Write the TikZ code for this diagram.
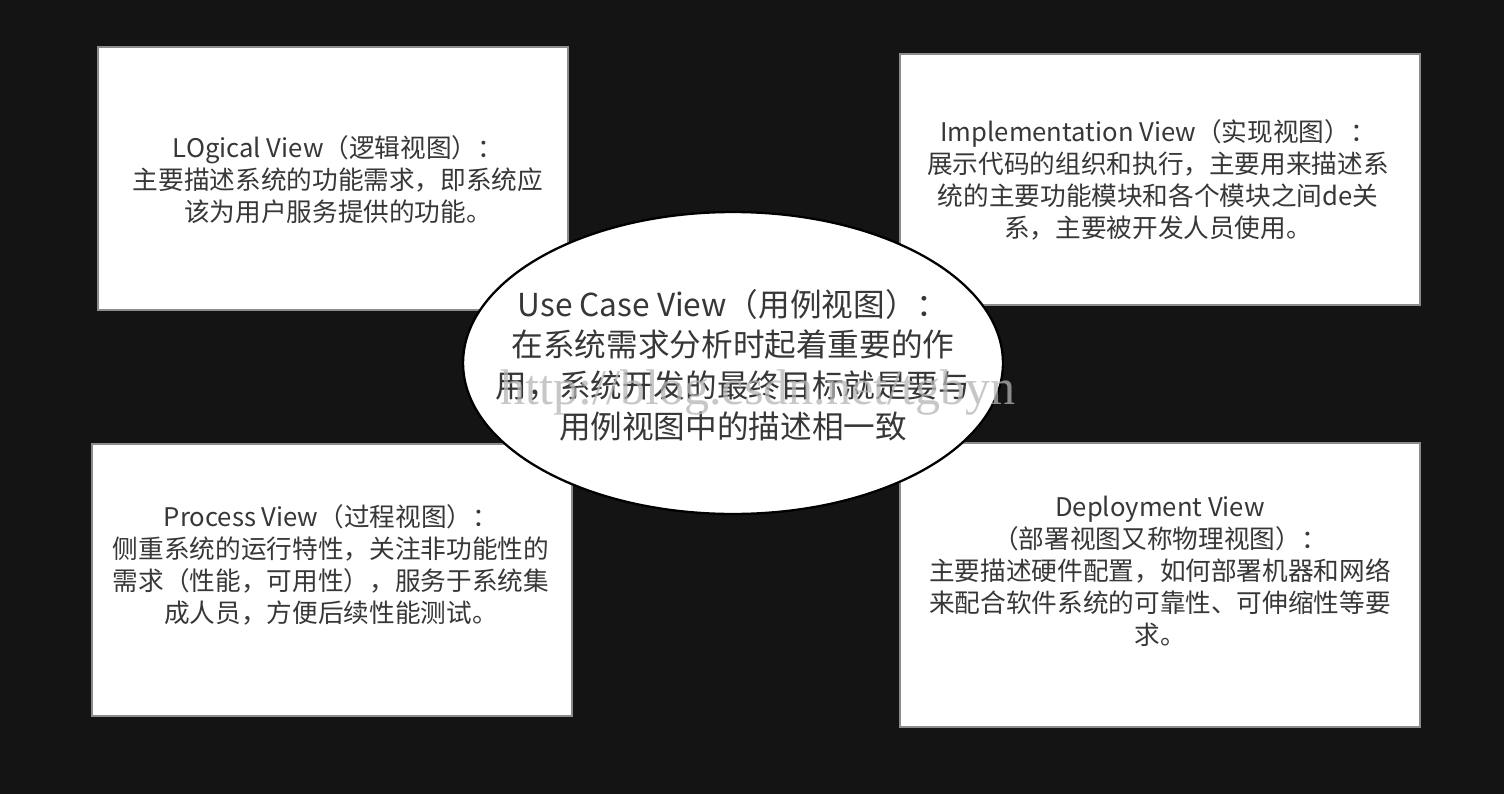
\documentclass[tikz,border=0pt]{standalone}
\usepackage{fontspec}
\setmainfont{Noto Sans CJK SC}
\newfontfamily\wmfont{Liberation Serif}
\usetikzlibrary{shapes.geometric, positioning}
\definecolor{bgdark}{RGB}{20,20,20}
\definecolor{txtgray}{RGB}{55,55,55}
\definecolor{boxedge}{RGB}{140,140,140}
\definecolor{wmgray}{RGB}{181,181,181}

\begin{document}
\begin{tikzpicture}[
  x=0.02cm, y=-0.02cm,
  viewbox/.style={draw=boxedge, line width=1.5pt, fill=white, inner sep=0pt},
  viewtxt/.style={text=txtgray, align=center, inner sep=0pt,
                  font=\fontsize{14.6}{18.2}\selectfont},
  usecase/.style={ellipse, draw=black, line width=1.3pt, fill=white,
                  inner sep=0pt, minimum width=10.8cm, minimum height=6.04cm},
  usetxt/.style={viewtxt, font=\fontsize{18}{23.2}\selectfont}
]
  % background
  \fill[bgdark] (0,0) rectangle (1504,794);
  \useasboundingbox (0,0) rectangle (1504,794);

  % the four views
  \node[viewbox, minimum width=9.4cm, minimum height=5.26cm]  (logical) at (333,178.5) {};
  \node[viewbox, minimum width=10.4cm, minimum height=5.02cm] (impl)    at (1160,179.5) {};
  \node[viewbox, minimum width=9.6cm, minimum height=5.44cm]  (proc)    at (332,580) {};
  \node[viewbox, minimum width=10.4cm, minimum height=5.68cm] (deploy)  at (1160,585) {};

  \node[viewtxt] (logical-txt) at (338,180)
    {LOgical View（逻辑视图）：\\主要描述系统的功能需求，即系统应\\该为用户服务提供的功能。};
  \node[viewtxt] (impl-txt) at (1158,180)
    {Implementation View（实现视图）：\\展示代码的组织和执行，主要用来描述系\\统的主要功能模块和各个模块之间de关\\系，主要被开发人员使用。};
  \node[viewtxt] (proc-txt) at (331,565)
    {Process View（过程视图）：\\侧重系统的运行特性，关注非功能性的\\需求（性能，可用性），服务于系统集\\成人员，方便后续性能测试。};
  \node[viewtxt] (deploy-txt) at (1160,571)
    {Deployment View\\（部署视图又称物理视图）：\\主要描述硬件配置，如何部署机器和网络\\来配合软件系统的可靠性、可伸缩性等要\\求。};

  % central view
  \node[usecase] (usecase) at (733,363) {};
  \node[usetxt] (usecase-txt) at (733,365)
    {Use Case View（用例视图）：\\在系统需求分析时起着重要的作\\用，系统开发的最终目标就是要与\\用例视图中的描述相一致};

  % watermark
  \node[text=wmgray, text opacity=0.75, inner sep=0pt,
        font=\wmfont\fontsize{28.5}{28.5}\selectfont] (mark) at (758,393)
    {http://blog.csdn.net/tgbyn};
\end{tikzpicture}
\end{document}
